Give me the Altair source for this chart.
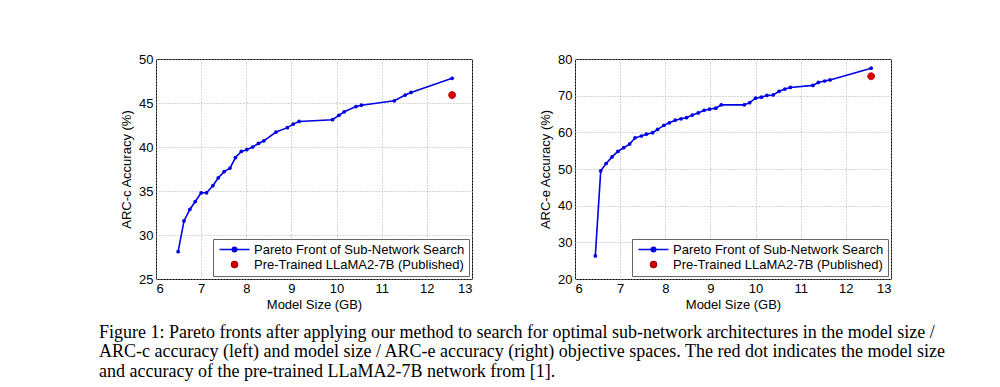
import altair as alt
import pandas as pd

# ---- data ----
arcc_size = [6.49, 6.62, 6.75, 6.87, 7.00, 7.12, 7.26, 7.38, 7.51, 7.64, 7.76, 7.89,
             8.01, 8.14, 8.27, 8.39, 8.66, 8.91, 9.04, 9.17, 9.91, 10.05, 10.17,
             10.43, 10.55, 11.28, 11.52, 11.65, 12.56]
arcc_acc = [28.1, 31.6, 32.9, 33.8, 34.8, 34.8, 35.6, 36.5, 37.2, 37.6, 38.8, 39.5,
            39.7, 40.0, 40.4, 40.7, 41.7, 42.2, 42.6, 42.9, 43.1, 43.6, 44.0,
            44.6, 44.75, 45.25, 45.9, 46.2, 47.8]
arcc_base_size = [12.56]
arcc_base_acc = [45.9]

arce_size = [6.45, 6.57, 6.69, 6.82, 6.95, 7.08, 7.21, 7.33, 7.47, 7.58, 7.72, 7.83,
             7.97, 8.09, 8.22, 8.35, 8.47, 8.60, 8.73, 8.86, 8.98, 9.12, 9.24,
             9.75, 9.87, 10.00, 10.13, 10.25, 10.39, 10.52, 10.65, 10.77, 11.27,
             11.39, 11.53, 11.65, 12.56]
arce_acc = [26.3, 49.5, 51.5, 53.3, 54.8, 55.8, 56.8, 58.5, 59.0, 59.5, 59.9, 60.8,
            61.9, 62.6, 63.3, 63.7, 64.0, 64.7, 65.3, 66.0, 66.3, 66.6, 67.5,
            67.5, 68.1, 69.3, 69.6, 70.05, 70.2, 71.2, 71.8, 72.25, 72.8,
            73.6, 74.0, 74.3, 77.5]
arce_base_size = [12.56]
arce_base_acc = [75.3]

series_names = ["Pareto Front of Sub-Network Search", "Pre-Trained LLaMA2-7B (Published)"]
x_ticks = [6, 7, 8, 9, 10, 11, 12, 13]
arcc_ticks = [25, 30, 35, 40, 45, 50]
arce_ticks = [20, 30, 40, 50, 60, 70, 80]

caption = [
    "Figure 1: Pareto fronts after applying our method to search for optimal sub-network architectures in the model size /",
    "ARC-c accuracy (left) and model size / ARC-e accuracy (right) objective spaces. The red dot indicates the model size",
    "and accuracy of the pre-trained LLaMA2-7B network from [1].",
]

BLUE = "#0000e6"
RED = "#dd0000"

LINE_PATH = "M-3,0L3,0M-0.45,0A0.45,0.45,0,1,1,0.45,0A0.45,0.45,0,1,1,-0.45,0Z"
DOT_PATH = "M-0.6,0A0.6,0.6,0,1,1,0.6,0A0.6,0.6,0,1,1,-0.6,0Z"


def panel(sizes, accs, bsize, bacc, ytitle, yticks):
    front = pd.DataFrame({"size": sizes, "acc": accs, "series": series_names[0]})
    base = pd.DataFrame({"size": bsize, "acc": bacc, "series": series_names[1]})

    xenc = alt.X("size:Q", title="Model Size (GB)",
                 scale=alt.Scale(domain=[x_ticks[0], x_ticks[-1]], nice=False, zero=False),
                 axis=alt.Axis(values=x_ticks, format="d"))
    yenc = alt.Y("acc:Q", title=ytitle,
                 scale=alt.Scale(domain=[yticks[0], yticks[-1]], nice=False, zero=False),
                 axis=alt.Axis(values=yticks, format="d"))
    legend = alt.Legend(
        title=None, orient="bottom-right", offset=3, padding=4,
        fillColor="white", strokeColor="#666666", cornerRadius=0,
        labelFont="Liberation Sans", labelFontSize=13, labelColor="black", labelLimit=400,
        symbolSize=100, symbolOffset=11, labelOffset=13, rowPadding=1,
        symbolStrokeWidth=1.5, symbolOpacity=1,
    )
    line = alt.Chart(front).mark_line(strokeWidth=1.6, color=BLUE).encode(x=xenc, y=yenc)
    pts = alt.Chart(front).mark_circle(size=14, opacity=1, color=BLUE).encode(x=xenc, y=yenc)
    red = alt.Chart(base).mark_point(filled=True, size=136, opacity=1, strokeWidth=0.8).encode(
        x=xenc, y=yenc,
        fill=alt.Fill("series:N", scale=alt.Scale(domain=series_names, range=[BLUE, RED]), legend=legend),
        stroke=alt.Stroke("series:N", scale=alt.Scale(domain=series_names, range=[BLUE, "#aa0000"]), legend=legend),
        shape=alt.Shape("series:N", scale=alt.Scale(domain=series_names, range=[LINE_PATH, DOT_PATH]), legend=legend),
    )
    return alt.layer(line, pts, red).properties(width=316, height=220)


left = panel(arcc_size, arcc_acc, arcc_base_size, arcc_base_acc, "ARC-c Accuracy (%)", arcc_ticks)
right = panel(arce_size, arce_acc, arce_base_size, arce_base_acc, "ARC-e Accuracy (%)", arce_ticks)

chart = alt.hconcat(left, right, spacing=66).resolve_scale(
    fill="independent", stroke="independent", shape="independent"
).resolve_legend(
    fill="independent", stroke="independent", shape="independent"
).properties(
    title=alt.TitleParams(text=caption, orient="bottom", anchor="start", font="Liberation Serif",
                          fontSize=18, fontWeight="normal", color="black", offset=12,
                          lineHeight=19.5, dx=-21),
    padding={"left": 91, "top": 44, "right": 5, "bottom": 5},
    background="white",
).configure_view(stroke="black", strokeWidth=1).configure_axis(
    domain=False, ticks=False, grid=True, gridColor="#aaaaaa", gridDash=[1, 2], gridWidth=1,
    labelFont="Liberation Sans", labelFontSize=13, labelColor="black", labelPadding=3,
    titleFont="Liberation Sans", titleFontSize=13, titleFontWeight="normal", titleColor="black",
).configure_axisY(titlePadding=5).configure_axisX(titlePadding=3)

chart.save("out.html", embed_options={"renderer": "svg", "actions": False})
